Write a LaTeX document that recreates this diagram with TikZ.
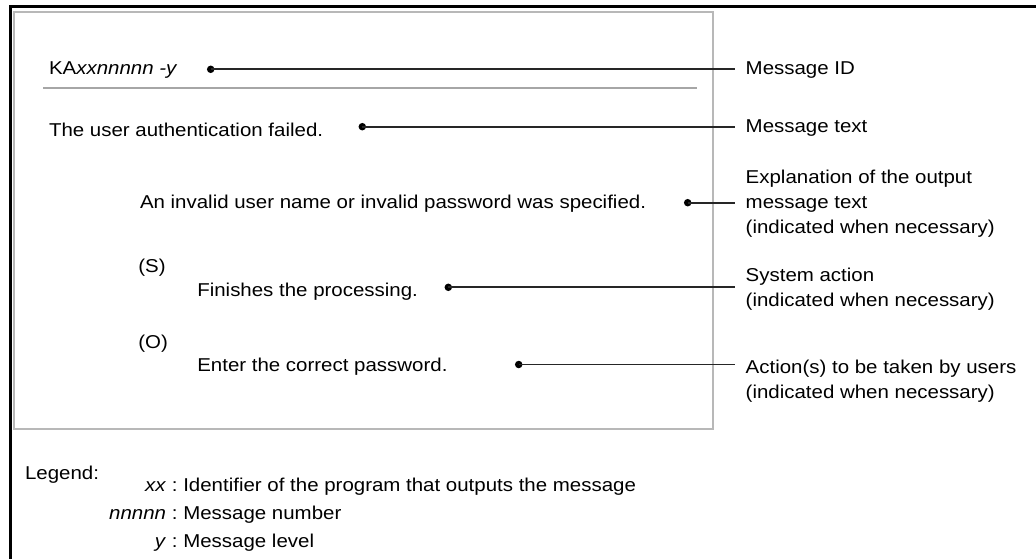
\documentclass[tikz,border=0pt]{standalone}
\usepackage{fontspec}
\setmainfont[FakeStretch=1.1]{Liberation Sans}
\begin{document}
\begin{tikzpicture}[x=1pt,y=-1pt,
  every node/.style={inner sep=0pt,outer sep=0pt,font=\fontsize{18.6}{25}\selectfont},
  txt/.style={anchor=base west},
  lbl/.style={anchor=base west,align=left,inner xsep=10.7pt},
  dot/.style={circle,fill=black,minimum size=7.5pt,inner sep=0pt},
  conn/.style={draw=black!85,line width=1.8pt},
  frame/.style={draw=black,line width=3pt},
  box/.style={draw=black!28,line width=1.8pt},
  sep/.style={draw=black!35,line width=2pt}]
\useasboundingbox (0,0) rectangle (1036,559);
% outer frame
\draw[frame] (10,570) -- (10,7) -- (1045,7);
% inner message box
\draw[box] (14,12) rectangle (712.7,429.3);
\draw[sep] (43.3,88.3) -- (697,88.3);
% message texts
\node[txt] (id) at (49,75) {KA\textit{xxnnnnn -y}};
\node[txt] (mt) at (49,136) {The user authentication failed.};
\node[txt] (ex) at (140,208.5) {An invalid user name or invalid password was specified.};
\node[txt] (s) at (138.3,272.7) {(S)};
\node[txt] (sa) at (197.3,296.7) {Finishes the processing.};
\node[txt] (o) at (138.3,348.3) {(O)};
\node[txt] (oa) at (197.3,371.7) {Enter the correct password.};
% dots
\node[dot] (d1) at (210.7,69.3) {};
\node[dot] (d2) at (362.3,126.7) {};
\node[dot] (d3) at (687.7,202.7) {};
\node[dot] (d4) at (448.3,287.3) {};
\node[dot] (d5) at (518.7,364.5) {};
% labels (base anchor = last line baseline)
\node[lbl] (l1) at (735,75) {Message ID};
\node[lbl] (l2) at (735,132.7) {Message text};
\node[lbl] (l3) at (735,233) {Explanation of the output\\message text\\(indicated when necessary)};
\node[lbl] (l4) at (735,306) {System action\\(indicated when necessary)};
\node[lbl] (l5) at (735,398) {Action(s) to be taken by users\\(indicated when necessary)};
% connectors
\draw[conn] (d1.center) -- (d1.center -| l1.west);
\draw[conn] (d2.center) -- (d2.center -| l2.west);
\draw[conn] (d3.center) -- (d3.center -| l3.west);
\draw[conn] (d4.center) -- (d4.center -| l4.west);
\draw[conn] (d5.center) -- (d5.center -| l5.west);
% legend
\node[txt] (lg) at (25,479.3) {Legend:};
\node[anchor=base east] (k1) at (177.5,491.7) {\textit{xx} :};
\node[txt] (v1) at (183.3,491.7) {Identifier of the program that outputs the message};
\node[anchor=base east] (k2) at (177.5,519) {\textit{nnnnn} :};
\node[txt] (v2) at (183.3,519) {Message number};
\node[anchor=base east] (k3) at (177.5,547) {\textit{y} :};
\node[txt] (v3) at (183.3,547) {Message level};
\end{tikzpicture}
\end{document}
